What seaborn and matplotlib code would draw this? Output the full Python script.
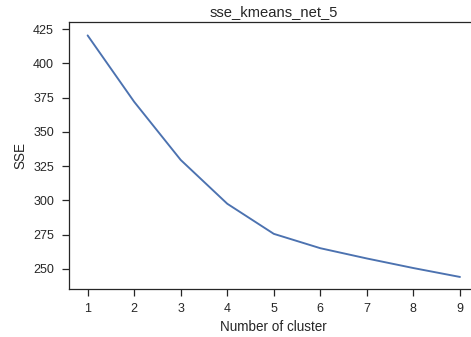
import matplotlib
matplotlib.use("Agg")
import matplotlib.pyplot as plt
import seaborn as sns
import pandas as pd

clusters = [1, 2, 3, 4, 5, 6, 7, 8, 9]
sse = [420.5, 372, 329.5, 297.5, 275.5, 265, 257.5, 250.5, 244]

sns.set_theme(style="ticks", context="notebook")
plt.rcParams['font.family'] = ['Liberation Sans', 'DejaVu Sans']

df = pd.DataFrame({"Number of cluster": clusters, "SSE": sse})

fig = plt.figure(figsize=(471/72, 337/72), dpi=72)
ax = fig.add_axes([69/471, 48/337, (478.6-69)/471, (289-22)/337])
sns.lineplot(data=df, x="Number of cluster", y="SSE", ax=ax, color="#4c72b0", linewidth=1.9)
ax.set_xlim(0.6, 9.4)
ax.set_ylim(235.2, 430.3)
ax.set_xticks(clusters)
ax.set_yticks([250, 275, 300, 325, 350, 375, 400, 425])
ax.tick_params(labelsize=12.5, length=7, width=1.25, colors=".15")
ax.tick_params(axis="y", pad=8)
ax.tick_params(axis="x", pad=7)
for s in ax.spines.values():
    s.set_linewidth(1.25)
    s.set_color(".15")
ax.spines["right"].set_visible(False)
ax.set_xlabel("Number of cluster", fontsize=13.5, labelpad=5, color=".15")
ax.set_ylabel("SSE", fontsize=13.5, labelpad=6, color=".15")
ax.set_title("sse_kmeans_net_5", fontsize=14.8, pad=6, color=".15")
fig.savefig("out.png", dpi=72)
